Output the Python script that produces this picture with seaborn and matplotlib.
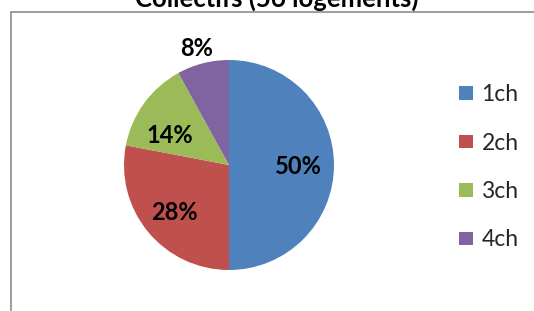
import numpy as np
import matplotlib
matplotlib.use("Agg")
import matplotlib.pyplot as plt
from matplotlib.lines import Line2D
import seaborn as sns

# chart data
title = "Collectifs (56 logements)"
categories = ["1ch", "2ch", "3ch", "4ch"]
shares = [50, 28, 14, 8]
colors = ["#4F81BD", "#C0504D", "#9BBB59", "#8064A2"]

sns.set_theme(style="white")
plt.rcParams['font.family'] = ['Lato', 'DejaVu Sans']

W, H = 534, 311
fig = plt.figure(figsize=(W / 100, H / 100), dpi=100)
fig.patch.set_facecolor("white")

# pie area in pixels: centre (229, 165), radius 105
cx, cy, r = 229, 165, 105
ax = fig.add_axes([(cx - r) / W, (H - cy - r) / H, 2 * r / W, 2 * r / H])

wedges, texts, autotexts = ax.pie(
    shares, colors=colors, startangle=90, counterclock=False,
    autopct="%1.0f%%", pctdistance=0.66,
    textprops=dict(fontsize=17, fontweight="bold", color="black"),
    wedgeprops=dict(linewidth=0),
)
ax.set_xlim(-1, 1)
ax.set_ylim(-1, 1)
ax.set_aspect("equal")
ax.axis("off")

# excel "best fit" label placement: (radius, angle nudge in degrees)
label_place = [(0.66, 0), (0.68, 0), (0.64, 8), (1.17, 1)]
for w, t, (rad, nudge) in zip(wedges, autotexts, label_place):
    ang = np.deg2rad((w.theta1 + w.theta2) / 2 + nudge)
    t.set_position((rad * np.cos(ang), rad * np.sin(ang)))
    t.set_va("center_baseline")

leg = fig.legend(wedges, categories, loc="upper left",
                 bbox_to_anchor=(459 / W, 1 - 84 / H),
                 frameon=False, fontsize=16.5, labelspacing=1.2,
                 handlelength=0.62, handleheight=0.53, handletextpad=0.36,
                 borderpad=0, borderaxespad=0)

# title, cut off at top of the crop
fig.text(277 / W, 1 - 7 / H, title, ha="center", va="baseline",
         fontsize=18.5, fontweight="bold", color="black")

# chart border (partially visible)
border = "#8c8c8c"
fig.add_artist(Line2D([11 / W, 1], [1 - 12 / H, 1 - 12 / H], color=border, lw=1.2))
fig.add_artist(Line2D([11 / W, 11 / W], [0, 1 - 12 / H], color=border, lw=1.2))

fig.savefig("out.png", dpi=100)
